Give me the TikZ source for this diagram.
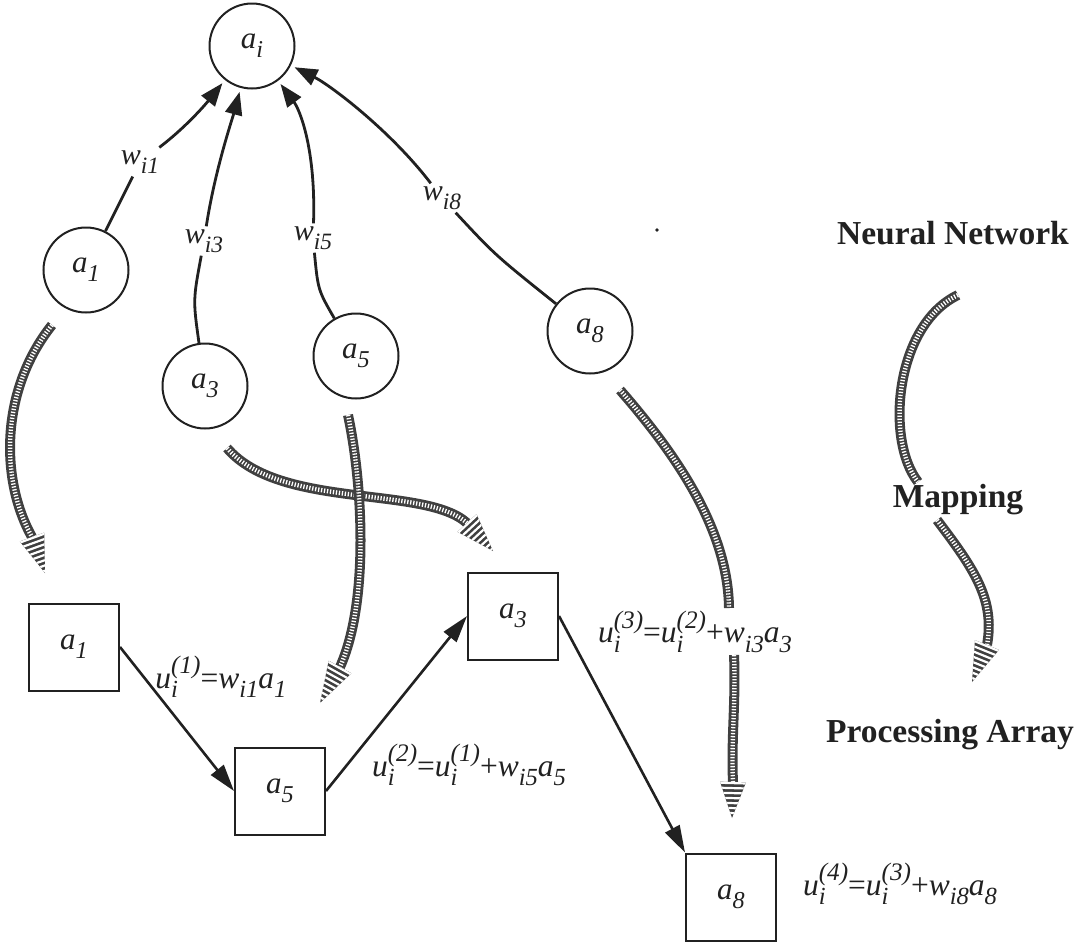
\documentclass[tikz,border=0pt]{standalone}
\usepackage{fontspec}
\setmainfont{Liberation Serif}
\usetikzlibrary{arrows.meta,calc}

\definecolor{ink}{gray}{0.13}
\definecolor{hatchdark}{gray}{0.25}

% lowered / raised index at 3/4 size
\newcommand{\lowidx}[1]{\raisebox{-0.3em}{\scalebox{0.78}{\textit{#1}}}}
\newcommand{\highidx}[1]{\raisebox{0.45em}{\scalebox{0.8}{\textit{#1}}}}
% italic variable with subscript
\newcommand{\vsb}[2]{\textit{#1}\lowidx{#2}}
% partial sum u_i^{(k)}
\newcommand{\ustep}[1]{\textit{u}\rlap{\lowidx{i}}\highidx{(#1)}}

% striped triangular head for the mapping arrows: base point #1, tip #2
\newcommand{\stripehead}[2]{%
  \fill[hatchdark] ($(#1)!13pt!90:(#2)$) -- (#2) -- ($(#1)!13pt!-90:(#2)$) -- cycle;
  \begin{scope}
    \clip ($(#1)!13pt!90:(#2)$) -- (#2) -- ($(#1)!13pt!-90:(#2)$) -- cycle;
    \draw[white, line width=40pt, dash pattern=on 2.2pt off 2.8pt] (#1) -- (#2);
  \end{scope}}

\tikzset{
  neuron/.style={circle, draw=ink, line width=2pt, minimum size=85pt, inner sep=0pt,
    font=\fontsize{31}{37}\selectfont, text=ink},
  pe/.style={rectangle, draw=ink, line width=2pt, minimum width=90pt, minimum height=87pt,
    inner sep=0pt, font=\fontsize{31}{37}\selectfont, text=ink},
  wlbl/.style={inner sep=3pt, font=\fontsize{30}{34}\selectfont, text=ink},
  ulbl/.style={inner sep=1pt, font=\fontsize{31.5}{36}\selectfont, text=ink},
  title/.style={font=\bfseries\fontsize{33.5}{38}\selectfont, text=ink},
  wire/.style={draw=ink, line width=2.8pt},
  link/.style={wire, shorten >=4pt, -{Triangle[length=23pt,width=17pt]}},
  flow/.style={draw=ink, line width=2.6pt, -{Triangle[length=27pt,width=16pt]}},
  hatch/.style={line width=10pt, draw=hatchdark,
    postaction={draw=white, line width=4.4pt, dash pattern=on 1.3pt off 1.7pt}}
}

\begin{document}
\begin{tikzpicture}[x=1pt,y=-1pt]
\useasboundingbox (0,0) rectangle (1086,943);

% neural network
\node[neuron] (ai) at (252,46) {\vsb{a}{i}};
\node[neuron] (n1) at (86,270) {\vsb{a}{1}};
\node[neuron] (n3) at (205,386) {\vsb{a}{3}};
\node[neuron] (n5) at (356,356) {\vsb{a}{5}};
\node[neuron] (n8) at (590,331) {\vsb{a}{8}};

\node[wlbl] (w1) at (140,162) {\vsb{w}{i1}};
\node[wlbl] (w3) at (204,241) {\vsb{w}{i3}};
\node[wlbl] (w5) at (313,238) {\vsb{w}{i5}};
\node[wlbl] (w8) at (442,198) {\vsb{w}{i8}};

\draw[wire] (n1) -- (w1);
\draw[link] (w1) .. controls (185,128) and (205,105) .. (ai);
\draw[wire] (n3) .. controls (193,300) .. (w3);
\draw[link] (w3) .. controls (215,170) and (232,120) .. (ai);
\draw[wire] (n5) .. controls (318,290) .. (w5);
\draw[link] (w5) .. controls (316,150) and (300,110) .. (ai);
\draw[wire] (n8) .. controls (495,255) .. (w8);
\draw[link] (w8) .. controls (390,130) and (330,85) .. (ai);

\fill[ink] (657,230) circle (1.8pt);

% processing array
\node[pe] (p1) at (74,647) {\vsb{a}{1}};
\node[pe] (p5) at (280,791) {\vsb{a}{5}};
\node[pe] (p3) at (513,616) {\vsb{a}{3}};
\node[pe] (p8) at (731,897) {\vsb{a}{8}};

\draw[flow] (p1.east) -- (p5.west);
\draw[flow] (p5.east) -- (p3.west);
\draw[flow] (p3.east) -- (p8.north west);

\node[ulbl] (u1) at (221,677) {\ustep{1}=\vsb{w}{i1}\vsb{a}{1}};
\node[ulbl] (u2) at (469,765) {\ustep{2}=\ustep{1}+\vsb{w}{i5}\vsb{a}{5}};
\node[ulbl] (u3) at (695,632) {\ustep{3}=\ustep{2}+\vsb{w}{i3}\vsb{a}{3}};
\node[ulbl] (u4) at (900,884) {\ustep{4}=\ustep{3}+\vsb{w}{i8}\vsb{a}{8}};

% titles
\node[title] (tnn) at (953,233) {Neural Network};
\node[title] (tmap) at (958,500) {Mapping};
\node[title] (tpa) at (950,735) {Processing Array};

% mapping arrows
\coordinate (h1s) at (52,325);  \coordinate (h1b) at (32,537);  \coordinate (h1t) at (45,573);
\coordinate (h2s) at (227,448); \coordinate (h2b) at (467,523); \coordinate (h2t) at (493,551);
\coordinate (h3s) at (348,415); \coordinate (h3b) at (340,667); \coordinate (h3t) at (320,703);
\coordinate (h4s) at (620,390); \coordinate (h4m) at (729,608);
\coordinate (h4r) at (734,655); \coordinate (h4b) at (733,782); \coordinate (h4t) at (732,818);
\coordinate (h5s) at (958,295); \coordinate (h5m) at (918,482);
\coordinate (h5r) at (937,520); \coordinate (h5b) at (987,645); \coordinate (h5t) at (972,682);

\draw[hatch] (h1s) .. controls (0,390) and (0,480) .. (h1b);
\stripehead{h1b}{h1t}
\draw[hatch] (h2s) .. controls (280,510) and (425,485) .. (h2b);
\stripehead{h2b}{h2t}
\draw[hatch] (h3s) .. controls (362,480) and (370,600) .. (h3b);
\stripehead{h3b}{h3t}
\draw[hatch] (h4s) .. controls (690,470) and (728,540) .. (h4m);
\draw[hatch] (h4r) .. controls (736,700) and (731,740) .. (h4b);
\stripehead{h4b}{h4t}
\draw[hatch] (h5s) .. controls (895,325) and (885,440) .. (h5m);
\draw[hatch] (h5r) .. controls (975,570) and (995,600) .. (h5b);
\stripehead{h5b}{h5t}
\end{tikzpicture}
\end{document}
